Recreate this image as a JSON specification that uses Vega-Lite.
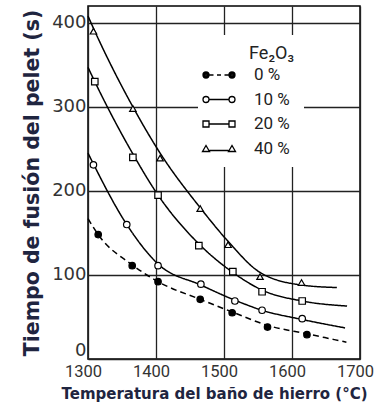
{
  "$schema": "https://vega.github.io/schema/vega-lite/v6.json",
  "width": 272,
  "height": 353,
  "autosize": {"type": "none"},
  "padding": {"left": 88, "top": 6, "right": 14, "bottom": 58},
  "background": "white",
  "datasets": {
    "curves": [
      {"fe": "0 %", "T": 1300, "t": 167}, {"fe": "0 %", "T": 1315, "t": 148}, {"fe": "0 %", "T": 1365, "t": 112},
      {"fe": "0 %", "T": 1403, "t": 92}, {"fe": "0 %", "T": 1465, "t": 71}, {"fe": "0 %", "T": 1512, "t": 56},
      {"fe": "0 %", "T": 1564, "t": 40}, {"fe": "0 %", "T": 1622, "t": 30}, {"fe": "0 %", "T": 1680, "t": 20},
      {"fe": "10 %", "T": 1300, "t": 245}, {"fe": "10 %", "T": 1308, "t": 232}, {"fe": "10 %", "T": 1357, "t": 160},
      {"fe": "10 %", "T": 1403, "t": 113}, {"fe": "10 %", "T": 1466, "t": 88}, {"fe": "10 %", "T": 1516, "t": 70},
      {"fe": "10 %", "T": 1556, "t": 58}, {"fe": "10 %", "T": 1615, "t": 47}, {"fe": "10 %", "T": 1678, "t": 37},
      {"fe": "20 %", "T": 1300, "t": 347}, {"fe": "20 %", "T": 1310, "t": 330}, {"fe": "20 %", "T": 1366, "t": 244},
      {"fe": "20 %", "T": 1403, "t": 195}, {"fe": "20 %", "T": 1463, "t": 137}, {"fe": "20 %", "T": 1513, "t": 103},
      {"fe": "20 %", "T": 1556, "t": 82}, {"fe": "20 %", "T": 1615, "t": 69}, {"fe": "20 %", "T": 1681, "t": 63},
      {"fe": "40%", "T": 1300, "t": 408}, {"fe": "40%", "T": 1310, "t": 390}, {"fe": "40%", "T": 1366, "t": 300},
      {"fe": "40%", "T": 1406, "t": 245}, {"fe": "40%", "T": 1465, "t": 180}, {"fe": "40%", "T": 1506, "t": 140},
      {"fe": "40%", "T": 1553, "t": 103}, {"fe": "40%", "T": 1614, "t": 88}, {"fe": "40%", "T": 1666, "t": 85}
    ],
    "points": [
      {"fe": "0 %", "T": 1315, "t": 148}, {"fe": "0 %", "T": 1365, "t": 111}, {"fe": "0 %", "T": 1403, "t": 92},
      {"fe": "0 %", "T": 1465, "t": 71}, {"fe": "0 %", "T": 1512, "t": 55}, {"fe": "0 %", "T": 1564, "t": 38},
      {"fe": "0 %", "T": 1622, "t": 29},
      {"fe": "10 %", "T": 1308, "t": 231}, {"fe": "10 %", "T": 1357, "t": 160}, {"fe": "10 %", "T": 1403, "t": 111},
      {"fe": "10 %", "T": 1466, "t": 89}, {"fe": "10 %", "T": 1516, "t": 69}, {"fe": "10 %", "T": 1556, "t": 58},
      {"fe": "10 %", "T": 1615, "t": 48},
      {"fe": "20 %", "T": 1310, "t": 330}, {"fe": "20 %", "T": 1366, "t": 240}, {"fe": "20 %", "T": 1403, "t": 195},
      {"fe": "20 %", "T": 1463, "t": 135}, {"fe": "20 %", "T": 1513, "t": 104}, {"fe": "20 %", "T": 1556, "t": 80},
      {"fe": "20 %", "T": 1615, "t": 69},
      {"fe": "40%", "T": 1308, "t": 390}, {"fe": "40%", "T": 1366, "t": 298}, {"fe": "40%", "T": 1406, "t": 239},
      {"fe": "40%", "T": 1465, "t": 179}, {"fe": "40%", "T": 1506, "t": 136}, {"fe": "40%", "T": 1553, "t": 98},
      {"fe": "40%", "T": 1614, "t": 91}
    ]
  },
  "encoding": {
    "x": {
      "field": "T", "type": "quantitative",
      "scale": {"domain": [1300, 1700], "nice": false, "zero": false},
      "axis": {
        "values": [1300, 1400, 1500, 1600, 1700], "format": "d",
        "title": "Temperatura del baño de hierro (°C)",
        "grid": true, "gridColor": "#222", "gridWidth": 1.3,
        "domain": false, "ticks": false,
        "labelFont": "Roboto", "labelFontSize": 16.5, "labelColor": "#333", "labelPadding": 4, "labelFlush": false,
        "labelOffset": -5,
        "titleFont": "DejaVu Sans", "titleFontWeight": "bold", "titleFontSize": 15, "titleColor": "#1f2540", "titlePadding": 7,
        "titleX": 126, "titleAlign": "center", "titleAnchor": null
      }
    },
    "y": {
      "field": "t", "type": "quantitative",
      "scale": {"domain": [0, 420], "nice": false},
      "axis": {
        "values": [0, 100, 200, 300, 400],
        "title": "Tiempo de fusión del pelet (s)",
        "grid": true, "gridColor": "#222", "gridWidth": 1.3,
        "domain": false, "ticks": false,
        "labelFont": "DejaVu Sans", "labelFontSize": 18, "labelColor": "#333", "labelPadding": 2,
        "labelFlush": true,
        "titleFont": "DejaVu Sans", "titleFontWeight": "bold", "titleFontSize": 20.5, "titleColor": "#1f2540", "titlePadding": 9
      }
    }
  },
  "layer": [
    {
      "data": {"name": "curves"},
      "mark": {"type": "line", "interpolate": "monotone", "color": "black", "strokeWidth": 1.5},
      "encoding": {
        "detail": {"field": "fe"},
        "strokeDash": {
          "field": "fe", "type": "nominal",
          "scale": {"domain": ["0 %", "10 %", "20 %", "40%"], "range": [[6, 4], [1, 0], [1, 0], [1, 0]]},
          "legend": null
        }
      }
    },
    {
      "data": {"name": "points"},
      "mark": {"type": "point", "filled": true, "stroke": "black", "strokeWidth": 1.2, "opacity": 1, "size": 42},
      "encoding": {
        "shape": {
          "field": "fe", "type": "nominal",
          "scale": {"domain": ["0 %", "10 %", "20 %", "40%"], "range": ["circle", "circle", "square", "triangle-up"]},
          "legend": null
        },
        "fill": {"condition": {"test": "datum.fe === '0 %'", "value": "black"}, "value": "white"}
      }
    },
    {
      "data": {"name": "points"},
      "mark": {"type": "point", "filled": false, "stroke": "black", "opacity": 0},
      "encoding": {
        "shape": {
          "field": "fe", "type": "nominal", "title": "Fe₂O₃",
          "scale": {
            "domain": ["0 %", "10 %", "20 %", "40%"],
            "range": [
              "M-1.6,0a0.3,0.3 0 1,0 0.6,0a0.3,0.3 0 1,0 -0.6,0ZM-1.5,0a0.2,0.2 0 1,0 0.4,0a0.2,0.2 0 1,0 -0.4,0ZM-1.4,0a0.1,0.1 0 1,0 0.2,0a0.1,0.1 0 1,0 -0.2,0ZM1,0a0.3,0.3 0 1,0 0.6,0a0.3,0.3 0 1,0 -0.6,0ZM1.1,0a0.2,0.2 0 1,0 0.4,0a0.2,0.2 0 1,0 -0.4,0ZM1.2,0a0.1,0.1 0 1,0 0.2,0a0.1,0.1 0 1,0 -0.2,0ZM-0.95,0L-0.55,0M-0.2,0L0.2,0M0.55,0L0.95,0",
              "M-1.6,0a0.3,0.3 0 1,0 0.6,0a0.3,0.3 0 1,0 -0.6,0ZM1,0a0.3,0.3 0 1,0 0.6,0a0.3,0.3 0 1,0 -0.6,0ZM-1,0L1,0",
              "M-1.6,-0.3h0.6v0.6h-0.6ZM1,-0.3h0.6v0.6h-0.6ZM-1,0L1,0",
              "M-1.65,0.3L-1.3,-0.3L-0.95,0.3ZM0.95,0.3L1.3,-0.3L1.65,0.3ZM-0.95,0.2L0.95,0.2"
            ]
          },
          "legend": {
            "orient": "none", "legendX": 110, "legendY": 29, "padding": 10,
            "fillColor": "white", "symbolSize": 400,
            "symbolStrokeColor": "black", "symbolStrokeWidth": 1.3, "symbolOpacity": 1,
            "labelFont": "Roboto", "labelFontSize": 17, "labelColor": "#222", "labelOffset": 24,
            "labelExpr": "datum.value == '0 %' ? '0    %' : datum.value == '10 %' ? '10  %' : datum.value == '20 %' ? '20 %' : '40 %'",
            "rowPadding": 5.5,
            "titleFont": "Roboto", "titleFontSize": 18, "titleFontWeight": "normal", "titleColor": "#222",
            "titleAnchor": "end", "titleAlign": "right", "titlePadding": 1,
            "encode": {
              "symbols": {"update": {
                "fill": {"signal": "datum.index === 0 ? 'black' : 'white'"},
                "stroke": {"value": "black"},
                "strokeWidth": {"value": 1.3},
                "opacity": {"value": 1}
              }}
            }
          }
        }
      }
    }
  ],
  "resolve": {"scale": {"shape": "independent"}},
  "config": {
    "view": {"stroke": "black", "strokeWidth": 1.5}
  }
}
